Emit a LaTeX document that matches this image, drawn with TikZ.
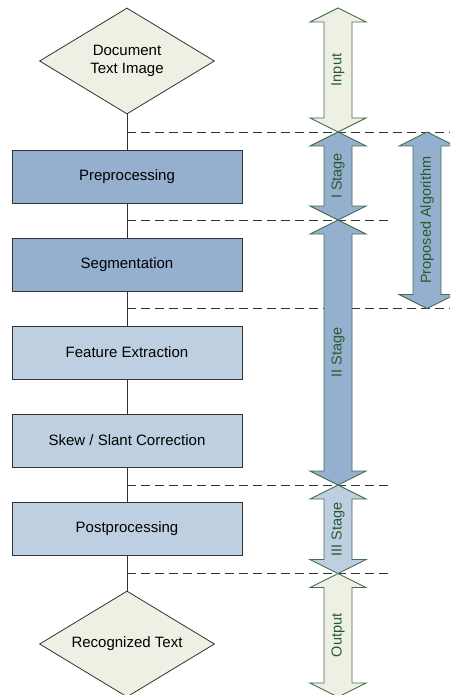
\documentclass[tikz,border=0pt]{standalone}
\usepackage{fontspec}
\setmainfont{Liberation Sans}
\usetikzlibrary{shapes.geometric}
\definecolor{darkbox}{RGB}{149,175,207}
\definecolor{lightbox}{RGB}{191,207,226}
\definecolor{dmfill}{RGB}{238,240,227}
\definecolor{arrowline}{RGB}{70,110,80}
\definecolor{arrowtext}{RGB}{40,90,50}
\definecolor{boxline}{RGB}{50,50,50}
\newcommand\vdarrow[5]{%
  \draw[arrowline, line width=0.9pt, fill=#4, line join=miter]
    (#1,#2) -- ++(28,14) -- ++(-14,0) -- (#1+14,#3-14) -- ++(14,0) -- (#1,#3)
    -- ++(-28,-14) -- ++(14,0) -- (#1-14,#2+14) -- ++(-14,0) -- cycle;
  \node[rotate=90, text=arrowtext, font=\fontsize{14.5}{16}\selectfont, inner sep=0pt]
    at (#1,{(#2+#3)/2}) {#5};}
\begin{document}
\begin{tikzpicture}[x=1pt, y=-1pt,
  stepbox/.style={draw=boxline, line width=0.8pt, minimum width=230pt, minimum height=53pt,
     inner sep=0pt, font=\fontsize{15}{17}\selectfont},
  darkstep/.style={stepbox, fill=darkbox},
  lightstep/.style={stepbox, fill=lightbox},
  dm/.style={diamond, draw=boxline, line width=0.8pt, fill=dmfill, aspect=1.65,
     minimum width=175pt, minimum height=106pt, inner sep=0pt, align=center,
     font=\fontsize{15}{17.5}\selectfont},
  link/.style={draw=boxline, line width=0.8pt},
  sep/.style={draw=black!80, line width=0.8pt, dash pattern=on 9pt off 5pt}]
\useasboundingbox (0,0) rectangle (450,695);
\clip (0,0) rectangle (450,695);
\fill[white] (0,0) rectangle (450,695);

% flow nodes
\node[dm] (input) at (127,61) {Document\\Text Image};
\node[darkstep] (pre) at (127,176.5) {Preprocessing};
\node[darkstep] (seg) at (127,264.5) {Segmentation};
\node[lightstep] (feat) at (127,352.5) {Feature Extraction};
\node[lightstep] (skew) at (127,440.5) {Skew / Slant Correction};
\node[lightstep] (post) at (127,528.5) {Postprocessing};
\node[dm] (out) at (127,644) {Recognized Text};

% connectors
\draw[link] (input.south) -- (pre.north);
\draw[link] (pre.south) -- (seg.north);
\draw[link] (seg.south) -- (feat.north);
\draw[link] (feat.south) -- (skew.north);
\draw[link] (skew.south) -- (post.north);
\draw[link] (post.south) -- (out.north);

% dashed separators
\coordinate (d1) at (127,132);  \coordinate (e1) at (450,132);
\coordinate (d2) at (127,220);  \coordinate (e2) at (391,220);
\coordinate (d3) at (127,308.5);\coordinate (e3) at (450,308.5);
\coordinate (d4) at (127,485);  \coordinate (e4) at (391,485);
\coordinate (d5) at (127,573.5);\coordinate (e5) at (391,573.5);
\draw[sep] (d1) -- (e1);
\draw[sep] (d2) -- (e2);
\draw[sep] (d3) -- (e3);
\draw[sep] (d4) -- (e4);
\draw[sep] (d5) -- (e5);

% stage arrows
\vdarrow{338}{8}{132}{dmfill}{Input}
\vdarrow{338}{132}{220}{darkbox}{I Stage}
\vdarrow{338}{220}{485}{darkbox}{II Stage}
\vdarrow{338}{485}{573.5}{lightbox}{III Stage}
\vdarrow{338}{573.5}{697}{dmfill}{Output}
\vdarrow{427}{132}{308.5}{darkbox}{Proposed Algorithm}
\end{tikzpicture}
\end{document}
